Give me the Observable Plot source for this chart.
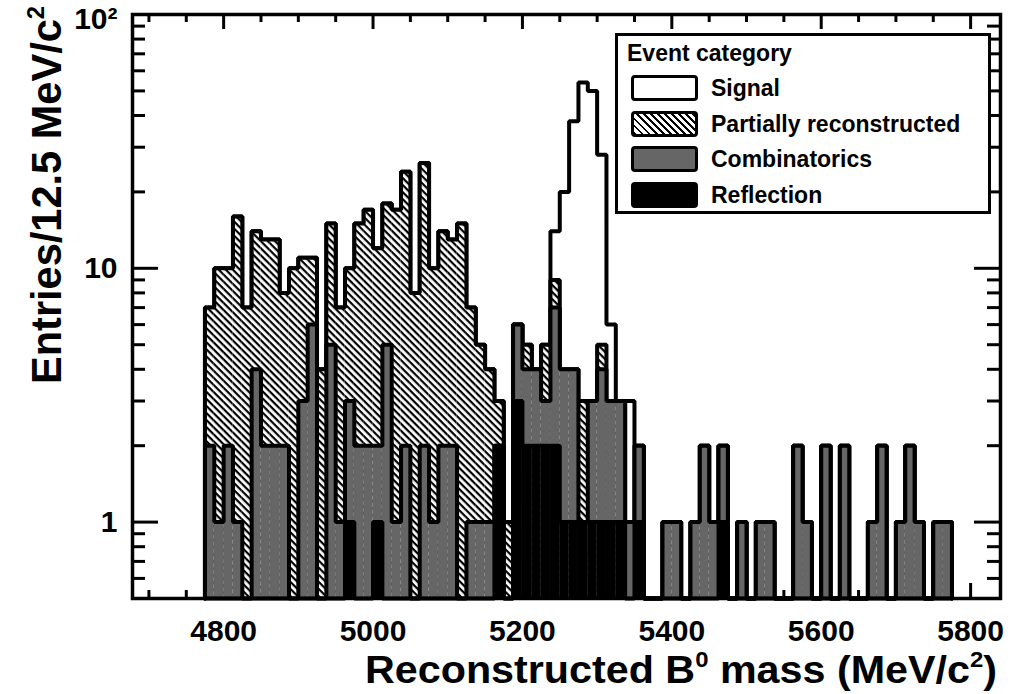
<!DOCTYPE html>
<html>
<head>
<meta charset="utf-8">
<script src="https://cdn.jsdelivr.net/npm/d3@7"></script>
<script src="https://cdn.jsdelivr.net/npm/@observablehq/plot@0.6"></script>
<style>
  html, body { margin: 0; padding: 0; background: #fff; }
  #chart { position: relative; width: 1016px; height: 694px; font-family: "Liberation Sans", Arial, Helvetica, sans-serif; font-weight: bold; }
  #legend { position: absolute; left: 615px; top: 33px; width: 376px; height: 181px; box-sizing: border-box; border: 3px solid #000; background: #fff; }
  #legend .title { position: absolute; left: 9px; top: 5px; font-size: 23px; line-height: 24px; }
  #legend .row { position: absolute; left: 13px; height: 26px; display: flex; align-items: center; }
  #legend .sw { width: 67px; height: 26px; box-sizing: border-box; border: 3px solid #000; border-radius: 4px; margin-right: 13px; }
  #legend .lbl { font-size: 23px; line-height: 26px; }
</style>
</head>
<body>
<div id="chart"></div>
<script>
// ---- data (bins of 12.5 MeV/c^2 starting at 4775) ----
const binStart = 4775;
const binWidth = 12.5;

const categories = ["Signal", "Partially reconstructed", "Combinatorics", "Reflection"];

const signal = [
  0,0,0,0,0,0,0,0,0,0,
  0,0,0,0,0,0,0,0,0,0,
  0,0,0,0,0,0,0,0,0,0,
  0,0,0,0,0,0,0,5,16,34,
  51,47,23,3,0,2,0,0,0,0,
  0,0,0,0,0,0,0,0,0,0,
  0,0,0,0,0,0,0,0,0,0,
  0,0,0,0,0,0,0,0,0,0
];
const partial = [
  5,9,8,15,7,10,11,11,6,10,
  8,5,4,10,6,7,13,15,10,13,
  16,22,8,24,9,12,11,15,6,4,
  3,1,1,0,1,0,2,2,0,0,
  2,0,1,0,0,0,0,0,0,0,
  0,0,0,0,0,0,0,0,0,0,
  0,0,0,0,0,0,0,0,0,0,
  0,0,0,0,0,0,0,0,0,0
];
const combinatorics = [
  2,1,2,1,0,4,2,2,2,0,
  3,6,0,5,1,2,2,2,1,5,
  1,2,0,2,1,2,2,0,1,1,
  1,0,0,3,2,2,1,5,3,3,
  0,2,3,2,2,1,1,0,0,1,
  1,0,1,2,1,1,0,1,0,1,
  1,0,0,2,1,0,2,0,2,0,
  0,1,2,0,1,2,1,0,1,1
];
const reflection = [
  0,0,0,0,0,0,0,0,0,0,
  0,0,0,0,0,1,0,0,1,0,
  0,0,0,0,0,0,0,0,0,0,
  0,2,0,3,2,2,2,2,1,1,
  1,1,1,1,1,0,1,0,0,0,
  0,0,0,0,0,1,0,0,0,0,
  0,0,0,0,0,0,0,0,0,0,
  0,0,0,0,0,0,0,0,0,0
];

const xMajorTicks = [4800, 5000, 5200, 5400, 5600, 5800];
const xMinorTicks = [4700, 4750, 4850, 4900, 4950, 5050, 5100, 5150, 5250, 5300, 5350,
                     5450, 5500, 5550, 5650, 5700, 5750];
const yMajorTicks = [1, 10, 100];
const yMinorTicks = [0.5, 0.6, 0.7, 0.8, 0.9, 2, 3, 4, 5, 6, 7, 8, 9, 20, 30, 40, 50, 60, 70, 80, 90];
const yTickLabels = {1: "1", 10: "10", 100: "10\u00B2"};

// ---- layout ----
const W = 1016, H = 694;
const mL = 132, mR = 16, mT = 14, mB = 96;
const innerW = W - mL - mR, innerH = H - mT - mB;
const xDomain = [4678, 5840];
const yDomain = [0.5, 100];
const yMin = yDomain[0];

// stacked bins (reflection at the bottom, signal on top)
const bins = signal.map((_, i) => {
  const lo = binStart + i * binWidth;
  const R = reflection[i];
  const C = R + combinatorics[i];
  const P = C + partial[i];
  const S = P + signal[i];
  return {lo, hi: lo + binWidth, S, P, C, R};
});

function outline(key) {
  const pts = [{x: bins[0].lo, y: yMin}];
  for (const d of bins) pts.push({x: d.lo, y: Math.max(d[key], yMin)});
  const last = bins[bins.length - 1];
  pts.push({x: last.hi, y: Math.max(last[key], yMin)});
  pts.push({x: last.hi, y: yMin});
  return pts;
}

const layers = [
  {key: "S", fill: "white"},
  {key: "P", fill: "url(#hatch)"},
  {key: "C", fill: "#666666"},
  {key: "R", fill: "black"}
];

const tk = {stroke: "black", strokeWidth: 3};
const marks = [
  Plot.tickX(xMajorTicks, {x: d => d, insetTop: innerH - 15, ...tk}),
  Plot.tickX(xMajorTicks, {x: d => d, insetBottom: innerH - 15, ...tk}),
  Plot.tickX(xMinorTicks, {x: d => d, insetTop: innerH - 8, ...tk}),
  Plot.tickX(xMinorTicks, {x: d => d, insetBottom: innerH - 8, ...tk}),
  Plot.tickY(yMajorTicks, {y: d => d, insetRight: innerW - 26, ...tk}),
  Plot.tickY(yMajorTicks, {y: d => d, insetLeft: innerW - 26, ...tk}),
  Plot.tickY(yMinorTicks, {y: d => d, insetRight: innerW - 13, ...tk}),
  Plot.tickY(yMinorTicks, {y: d => d, insetLeft: innerW - 13, ...tk})
];
for (const L of layers) {
  marks.push(Plot.rectY(bins.filter(d => d[L.key] > 0), {x1: "lo", x2: "hi", y1: yMin, y2: L.key, fill: L.fill}));
  marks.push(Plot.line(outline(L.key), {x: "x", y: "y", curve: "step-after", stroke: "black", strokeWidth: 4, strokeLinejoin: "miter"}));
}
marks.push(Plot.frame({stroke: "black", strokeWidth: 3.5}));
marks.push(Plot.axisX({anchor: "bottom", ticks: xMajorTicks, tickSize: 0, tickPadding: 21, tickFormat: d => String(d), fontSize: 30, label: null}));
marks.push(Plot.axisY({anchor: "left", ticks: yMajorTicks.filter(d => d < 100), tickSize: 0, tickPadding: 15, tickFormat: d => yTickLabels[d], fontSize: 30, label: null}));
marks.push(Plot.text(yMajorTicks.filter(d => d >= 100), {x: xDomain[0], y: d => d, text: d => yTickLabels[d], dx: -15, dy: 5, textAnchor: "end", lineAnchor: "middle", fontSize: 30, fontWeight: "bold"}));

const svg = Plot.plot({
  width: W, height: H,
  marginLeft: mL, marginRight: mR, marginTop: mT, marginBottom: mB,
  style: {fontFamily: "'Liberation Sans', Arial, Helvetica, sans-serif", fontWeight: "bold", background: "white", color: "black"},
  x: {domain: xDomain},
  y: {type: "log", domain: yDomain},
  marks
});

const s = d3.select(svg);
s.insert("defs", ":first-child").html(
  '<pattern id="hatch" patternUnits="userSpaceOnUse" width="5" height="5" patternTransform="rotate(45)">' +
  '<rect width="5" height="5" fill="white"/><rect width="5" height="2.2" fill="black"/></pattern>'
);

// axis titles
const xt = s.append("text")
  .attr("x", 997).attr("y", 683)
  .attr("text-anchor", "end")
  .attr("textLength", 632).attr("lengthAdjust", "spacingAndGlyphs")
  .attr("font-size", 38).attr("font-weight", "bold").attr("fill", "black");
xt.append("tspan").text("Reconstructed B");
xt.append("tspan").attr("font-size", 22).attr("dy", -16).text("0");
xt.append("tspan").attr("dy", 16).text(" mass (MeV/c");
xt.append("tspan").attr("font-size", 22).attr("dy", -16).text("2");
xt.append("tspan").attr("dy", 16).text(")");

const yt = s.append("text")
  .attr("transform", "translate(61,6) rotate(-90)")
  .attr("text-anchor", "end")
  .attr("textLength", 378).attr("lengthAdjust", "spacingAndGlyphs")
  .attr("font-size", 42).attr("font-weight", "bold").attr("fill", "black");
yt.append("tspan").text("Entries/12.5 MeV/c");
yt.append("tspan").attr("font-size", 24).attr("dy", -17).text("2");

const chart = document.getElementById("chart");
chart.appendChild(svg);

// legend
const legend = document.createElement("div");
legend.id = "legend";
const title = document.createElement("div");
title.className = "title";
title.textContent = "Event category";
legend.appendChild(title);
const swatchStyles = [
  "background:#fff",
  "background: repeating-linear-gradient(45deg, #000 0 2px, #fff 2px 5px)",
  "background:#666666",
  "background:#000"
];
const rowTops = [39, 75, 110, 146];
categories.forEach((c, i) => {
  const row = document.createElement("div");
  row.className = "row";
  row.style.top = rowTops[i] + "px";
  const sw = document.createElement("div");
  sw.className = "sw";
  sw.setAttribute("style", swatchStyles[i]);
  const lbl = document.createElement("span");
  lbl.className = "lbl";
  lbl.textContent = c;
  row.appendChild(sw);
  row.appendChild(lbl);
  legend.appendChild(row);
});
chart.appendChild(legend);
</script>
</body>
</html>
